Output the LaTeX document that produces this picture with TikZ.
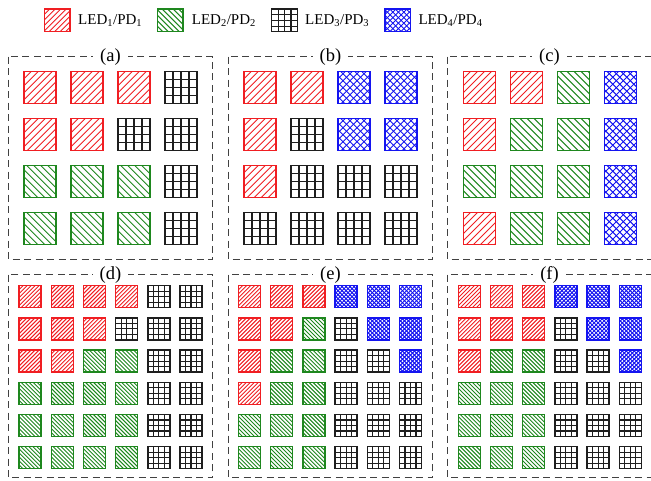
\documentclass[tikz,border=0pt]{standalone}
\usepackage{fontspec}
\setmainfont{Liberation Serif}

\definecolor{ledred}{RGB}{240,30,34}
\definecolor{ledgreen}{RGB}{30,135,30}
\definecolor{ledgrid}{RGB}{30,30,30}
\definecolor{ledblue}{RGB}{20,20,240}
\definecolor{boxgray}{RGB}{65,65,65}

\tikzset{
  cellframe/.style={line width=1.4pt},
  hatchline/.style={line width=0.95pt},
  panelbox/.style={draw=boxgray, line width=1.3pt, dash pattern=on 7pt off 4.5pt},
  panellabel/.style={font=\fontsize{18.5}{18}\selectfont, inner xsep=7pt, inner ysep=1pt, fill=white},
  legendtext/.style={font=\fontsize{15}{16}\selectfont, anchor=west, inner sep=0pt},
}

% hatch families inside a rectangle: #1 x, #2 y, #3 w, #4 h, #5 spacing, #6 colour
\newcommand\hatchNE[6]{%
  \begin{scope}
    \clip (#1,#2) rectangle ++(#3,#4);
    \foreach \k in {1,...,24} {\draw[hatchline,#6] ({#1+\k*#5},#2) -- ++(-80,80);}
  \end{scope}}
\newcommand\hatchNW[6]{%
  \begin{scope}
    \clip (#1,#2) rectangle ++(#3,#4);
    \foreach \k in {0,...,24} {\draw[hatchline,#6] ({#1-#4+\k*#5},#2) -- ++(80,80);}
  \end{scope}}

% cell types: R = LED1/PD1, G = LED2/PD2, K = LED3/PD3, B = LED4/PD4
\newcommand\cellR[5]{\hatchNE{#1}{#2}{#3}{#4}{#5}{ledred}%
  \draw[cellframe,ledred] (#1,#2) rectangle ++(#3,#4);}
\newcommand\cellG[5]{\hatchNW{#1}{#2}{#3}{#4}{#5}{ledgreen}%
  \draw[cellframe,ledgreen] (#1,#2) rectangle ++(#3,#4);}
\newcommand\cellK[5]{%
  \foreach \q in {1,2,3} {
    \draw[hatchline,ledgrid,line width=1.05pt] ({#1+\q*#3/4},#2) -- ++(0,#4);
    \draw[hatchline,ledgrid,line width=1.05pt] (#1,{#2+\q*#4/4}) -- ++(#3,0);}
  \draw[cellframe,ledgrid] (#1,#2) rectangle ++(#3,#4);}
\newcommand\cellB[5]{\hatchNE{#1}{#2}{#3}{#4}{#5}{ledblue}%
  \hatchNW{#1}{#2}{#3}{#4}{#5}{ledblue}%
  \draw[cellframe,ledblue] (#1,#2) rectangle ++(#3,#4);}

% array of cells: #1 x0, #2 y0, #3 pitch, #4 size, #5 hatch spacing, #6 rows
\newcommand\cellarray[6]{%
  \foreach \row [count=\r from 0] in {#6} {
    \foreach \t [count=\c from 0] in \row {
      \pgfmathsetmacro\cx{#1+\c*#3}
      \pgfmathsetmacro\cy{#2+\r*#3}
      \csname cell\t\endcsname{\cx}{\cy}{#4}{#4}{#5}
    }
  }}

\begin{document}
\begin{tikzpicture}[x=1pt,y=-1pt]
\useasboundingbox (0,0) rectangle (651,480);

% legend
\cellR{44.3}{9}{25.7}{22.7}{5.5}
\node[legendtext] (t1) at (78,20.5) {LED\textsubscript{1}/PD\textsubscript{1}};
\cellG{157.3}{9}{25.7}{22.7}{5.5}
\node[legendtext] (t2) at (191.7,20.5) {LED\textsubscript{2}/PD\textsubscript{2}};
\cellK{271.7}{9}{25.7}{22.7}{5.5}
\node[legendtext] (t3) at (305,20.5) {LED\textsubscript{3}/PD\textsubscript{3}};
\cellB{385}{9}{25.7}{22.7}{5.5}
\node[legendtext] (t4) at (418.3,20.5) {LED\textsubscript{4}/PD\textsubscript{4}};

% dashed panel frames
\foreach \px in {0,220,439} {
  \draw[panelbox] (8.3+\px,56.5) rectangle ++(204.4,202.8);
}
\foreach \px in {0,220,439} {
  \draw[panelbox] (8.3+\px,274.5) rectangle ++(204.4,203.2);
}

% 4x4 layouts
\cellarray{24}{71.7}{47}{32}{7}{{R,R,R,K},{R,R,K,K},{G,G,G,K},{G,G,G,K}}
\cellarray{244}{71.7}{47}{32}{7}{{R,R,B,B},{R,K,B,B},{R,K,K,K},{K,K,K,K}}
\cellarray{463.3}{71.7}{47}{32}{7}{{R,R,G,B},{R,G,G,B},{G,G,G,B},{R,G,G,B}}

% 6x6 layouts
\cellarray{19}{285.7}{32.2}{22}{4}{{R,R,R,R,K,K},{R,R,R,K,K,K},{R,R,G,G,K,K},{G,G,G,G,K,K},{G,G,G,G,K,K},{G,G,G,G,K,K}}
\cellarray{238.5}{285.7}{32.2}{22}{4}{{R,R,R,B,B,B},{R,R,G,K,B,B},{R,G,G,K,K,B},{R,G,G,K,K,K},{G,G,G,K,K,K},{G,G,G,K,K,K}}
\cellarray{458.3}{285.7}{32.2}{22}{4}{{R,R,R,B,B,B},{R,R,R,K,B,B},{R,G,G,K,K,B},{G,G,G,K,K,K},{G,G,G,K,K,K},{G,G,G,K,K,K}}

% panel labels over the frame tops
\node[panellabel] (la) at (110.5,57) {(a)};
\node[panellabel] (lb) at (330.5,57) {(b)};
\node[panellabel] (lc) at (549.5,57) {(c)};
\node[panellabel] (ld) at (110.5,275) {(d)};
\node[panellabel] (le) at (330.5,275) {(e)};
\node[panellabel] (lf) at (549.5,275) {(f)};
\end{tikzpicture}
\end{document}
